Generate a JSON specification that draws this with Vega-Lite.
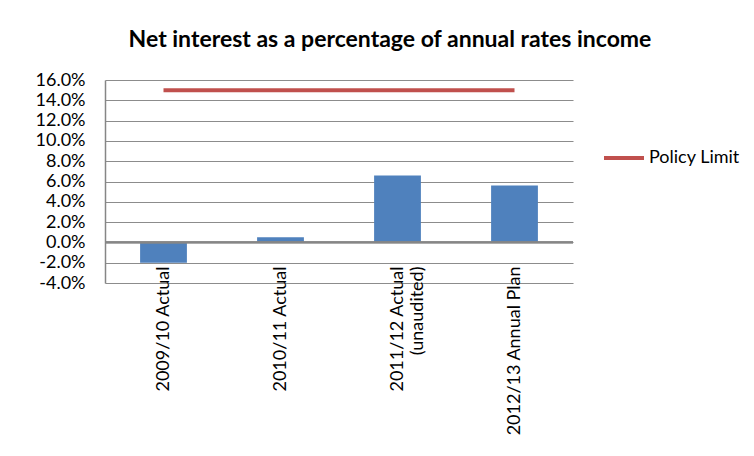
{
  "$schema": "https://vega.github.io/schema/vega-lite/v6.json",
  "width": 468,
  "height": 203,
  "autosize": "none",
  "padding": {"left": 105, "top": 80, "right": 181, "bottom": 173},
  "background": "white",
  "config": {
    "view": {"stroke": null},
    "font": "Lato",
    "axis": {"labelOverlap": false},
    "axisY": {"labelOverlap": false}
  },
  "title": {
    "text": "Net interest as a percentage of annual rates income",
    "fontSize": 23,
    "fontWeight": "bold",
    "font": "Lato",
    "color": "black",
    "anchor": "middle",
    "frame": "group",
    "dx": 51,
    "offset": 19
  },
  "data": {
    "values": [
      {"cat": "2009/10 Actual", "value": -0.020, "limit": 0.15, "series": "Policy Limit"},
      {"cat": "2010/11 Actual", "value": 0.005, "limit": 0.15, "series": "Policy Limit"},
      {"cat": "2011/12 Actual|(unaudited)", "value": 0.066, "limit": 0.15, "series": "Policy Limit"},
      {"cat": "2012/13 Annual Plan", "value": 0.056, "limit": 0.15, "series": "Policy Limit"}
    ]
  },
  "encoding": {
    "x": {
      "field": "cat",
      "type": "nominal",
      "sort": null,
      "scale": {"paddingInner": 0.6, "paddingOuter": 0.3},
      "axis": {
        "title": null,
        "labelAngle": -90,
        "labelExpr": "split(datum.label, '|')",
        "labelFontSize": 18,
        "labelColor": "black",
        "labelFont": "Lato",
        "labelOverlap": false,
        "domain": false,
        "ticks": false,
        "labelPadding": -17,
        "labelLineHeight": 20
      }
    },
    "y": {
      "field": "value",
      "type": "quantitative",
      "scale": {"domain": [-0.04, 0.16], "nice": false, "zero": false},
      "axis": {
        "title": null,
        "values": [-0.04, -0.02, 0, 0.02, 0.04, 0.06, 0.08, 0.1, 0.12, 0.14, 0.16],
        "format": ".1%",
        "labelExpr": "replace(datum.label, '\u2212', '-')",
        "labelOverlap": false,
        "labelFontSize": 18,
        "labelColor": "black",
        "labelFont": "Lato",
        "tickSize": 0,
        "labelPadding": 20,
        "domainColor": "#868686",
        "domainWidth": 1.5,
        "gridColor": "#8c8c8c",
        "gridWidth": 1.2
      }
    }
  },
  "layer": [
    {
      "mark": {"type": "bar", "color": "#4F81BD"}
    },
    {
      "mark": {"type": "rule", "color": "#868686", "strokeWidth": 1.8},
      "encoding": {"y": {"datum": 0, "type": "quantitative"}, "x": {"value": 0}, "x2": {"value": 468}}
    },
    {
      "mark": {"type": "line", "strokeWidth": 4},
      "encoding": {
        "y": {"field": "limit", "type": "quantitative"},
        "color": {
          "field": "series",
          "type": "nominal",
          "scale": {"range": ["#C0504D"]},
          "legend": {
            "title": null,
            "orient": "none",
            "legendX": 497,
            "legendY": 56,
            "symbolType": "stroke",
            "symbolSize": 1600,
            "symbolStrokeWidth": 4,
            "labelFontSize": 18,
            "labelColor": "black",
            "labelFont": "Lato",
            "labelOffset": 3
          }
        }
      }
    }
  ]
}
